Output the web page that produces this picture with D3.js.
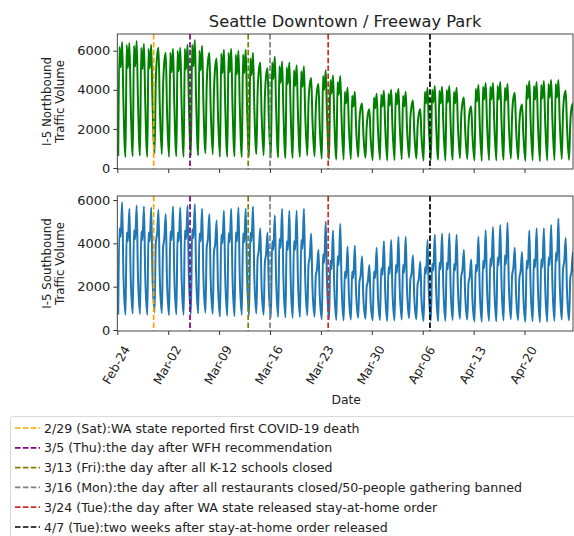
<!DOCTYPE html>
<html>
<head>
<meta charset="utf-8">
<script src="https://cdn.jsdelivr.net/npm/d3@7/dist/d3.min.js"></script>
<style>
  html, body { margin: 0; padding: 0; background: #fff; }
  svg { display: block; font-family: "DejaVu Sans", sans-serif; }
</style>
</head>
<body>
<svg id="chart" width="574" height="536"></svg>
<script>
// ---------- DATA ----------
const startDate = "2020-02-24";            // first day (Monday)
const slotHours = [3, 7, 11, 16, 20];      // hour of day of each daily reading
// I-5 Northbound: daily readings (64 days, Feb 24 .. Apr 27)
const nbMin = [620,560,600,640,580,750,700, 560,600,580,620,640,760,700, 560,580,600,560,600,720,650,
  520,540,500,520,560,640,600, 480,460,440,420,460,560,520, 400,420,380,400,440,520,480,
  380,400,420,380,420,500,460, 380,360,400,380,420,480,440, 360,380,340,380,400,460,420, 320];
const nbAm = [6200,6300,6250,6150,6100,4400,4100, 5900,6000,6100,6300,6000,4200,3900, 5850,5900,5800,5800,5600,3800,3600,
  5400,5200,5150,5000,4950,3300,3000, 4700,4500,4400,3900,3700,2400,2100, 3600,3750,3800,3850,3700,2500,2100,
  3900,4000,3950,4000,3900,2600,2200, 4050,4150,4150,4200,4100,2700,2300, 4250,4200,4250,4300,4300,2800,2300, 4200];
const nbMid = [5150,5100,5200,5050,5100,5650,5400, 4900,4950,5050,5200,5000,5400,5150, 4850,4900,4800,4850,4750,4950,4700,
  4550,4350,4300,4200,4150,4250,3950, 4000,3800,3750,3300,3150,3050,2750, 3050,3150,3200,3250,3150,3150,2750,
  3300,3350,3300,3350,3300,3300,2900, 3400,3500,3500,3500,3450,3550,3000, 3550,3500,3550,3600,3600,3650,3050, 3500];
const nbPeak = [6450,6400,6500,6350,6300,6150,5900, 6100,6150,6300,6550,6250,5900,5600, 6050,6100,6000,6050,5900,5400,5100,
  5700,5450,5400,5250,5200,4600,4300, 5000,4750,4700,4100,3900,3300,3000, 3800,3950,4000,4050,3900,3450,3000,
  4100,4200,4150,4200,4100,3600,3150, 4250,4350,4350,4400,4300,3850,3250, 4450,4400,4450,4500,4500,3950,3300, 4400];
const nbEve = [3500,3500,3600,3500,3500,3300,3000, 3350,3400,3450,3600,3450,3200,2900, 3300,3350,3300,3300,3250,2900,2600,
  3100,3000,2950,2900,2850,2500,2200, 2750,2600,2600,2250,2150,1800,1600, 2100,2150,2200,2250,2150,1900,1600,
  2250,2300,2300,2300,2250,2000,1700, 2350,2400,2400,2400,2350,2100,1750, 2450,2400,2450,2500,2500,2200,1800, 2400];
// I-5 Southbound: daily readings
const sbMin = [720,700,760,740,700,820,780, 680,720,700,740,760,800,740, 620,660,640,700,680,760,700,
  560,600,580,560,600,680,620, 500,480,460,440,480,560,520, 440,460,420,440,480,540,500,
  420,440,400,420,460,520,480, 400,380,420,400,440,500,460, 380,400,360,380,420,480,440, 360];
const sbAm = [4700,4500,4600,4550,4500,4000,3800, 4550,4500,4600,4650,4450,3800,3600, 4400,4450,4500,4450,4500,3300,3100,
  4100,4200,4100,4100,4150,3000,2500, 3500,3200,3400,2700,2700,2200,2000, 2700,2850,2900,3000,3000,2300,2100,
  2900,3050,3100,3100,3050,2450,2150, 3000,3200,3300,3350,3450,2500,2400, 3200,3250,3250,3350,3550,2800,2400, 3200];
const sbMid = [4300,4100,4200,4150,4100,4400,4200, 4150,4100,4200,4250,4100,4200,3950, 4000,4050,4100,4050,4100,3650,3500,
  3700,3800,3700,3700,3750,3350,2800, 3100,2800,3000,2400,2400,2500,2250, 2400,2550,2600,2650,2650,2600,2350,
  2600,2750,2800,2800,2750,2750,2450, 2700,2850,2950,3000,3050,2850,2700, 2850,2900,2900,3000,3200,3150,2700, 2850];
const sbPeak = [5900,5600,5750,5700,5650,5550,5350, 5700,5650,5750,5800,5600,5350,5050, 5500,5600,5650,5600,5700,4700,4500,
  5300,5600,5500,5500,5600,4450,3700, 5000,4600,4900,3850,3900,3400,3000, 3800,4100,4150,4300,4300,3450,3150,
  4150,4400,4450,4450,4400,3700,3250, 4300,4600,4750,4850,4950,3800,3600, 4600,4700,4700,4850,5150,4250,3600, 4600];
const sbEve = [2700,2550,2600,2600,2600,2500,2300, 2600,2550,2600,2650,2550,2400,2200, 2500,2550,2550,2550,2600,2100,1950,
  2400,2500,2450,2450,2500,2000,1650, 2250,2050,2200,1750,1750,1500,1350, 1700,1850,1850,1950,1950,1550,1400,
  1850,2000,2000,2000,2000,1650,1450, 1950,2050,2150,2200,2250,1700,1600, 2050,2100,2100,2200,2300,1900,1600, 2050];

const eventDates = ["2020-02-29", "2020-03-05", "2020-03-13", "2020-03-16", "2020-03-24", "2020-04-07"];
const eventColors = ["#ffa500", "#800080", "#808000", "#808080", "#d62728", "#000000"];
const eventLabels = [
  "2/29 (Sat):WA state reported first COVID-19 death",
  "3/5 (Thu):the day after WFH recommendation",
  "3/13 (Fri):the day after all K-12 schools closed",
  "3/16 (Mon):the day after all restaurants closed/50-people gathering banned",
  "3/24 (Tue):the day after WA state released stay-at-home order",
  "4/7 (Tue):two weeks after stay-at-home order released"
];
const xTickDates = ["2020-02-24","2020-03-02","2020-03-09","2020-03-16","2020-03-23","2020-03-30","2020-04-06","2020-04-13","2020-04-20"];
const yTicksNB = [0, 2000, 4000, 6000];
const yTicksSB = [0, 2000, 4000, 6000];

// ---------- BUILD ----------
const parse = d3.utcParse("%Y-%m-%d");
const day0 = parse(startDate);
function buildSeries(slots) {
  const pts = [];
  for (let i = 0; i < slots[0].length; i++) {
    slotHours.forEach((h, k) => {
      pts.push({ t: d3.utcHour.offset(d3.utcDay.offset(day0, i), h), v: slots[k][i] });
    });
  }
  return pts;
}
const nbData = buildSeries([nbMin, nbAm, nbMid, nbPeak, nbEve]);
const sbData = buildSeries([sbMin, sbAm, sbMid, sbPeak, sbEve]);

const svg = d3.select("#chart");
const left = 117.3, right = 573;
const x = d3.scaleUtc()
  .domain([day0, d3.utcHour.offset(day0, Math.round((right - left) / (50.9 / 7) * 24))])
  .range([left, right]);

const panels = [
  { id: "nb", top: 34, bottom: 169, domain: [-51, 6854], data: nbData, color: "#008000", ticks: yTicksNB,
    label: ["I-5 Northbound", "Traffic Volume"], xlabels: false },
  { id: "sb", top: 196, bottom: 331, domain: [-46, 6185], data: sbData, color: "#1f77b4", ticks: yTicksSB,
    label: ["I-5 Southbound", "Traffic Volume"], xlabels: true }
];

svg.append("text").attr("x", (left + right) / 2).attr("y", 27)
  .attr("text-anchor", "middle").attr("font-size", 16.3).attr("fill", "#222")
  .text("Seattle Downtown / Freeway Park");

panels.forEach(p => {
  const y = d3.scaleLinear().domain(p.domain).range([p.bottom, p.top]);
  svg.append("clipPath").attr("id", "clip-" + p.id)
    .append("rect").attr("x", left).attr("y", p.top).attr("width", right - left).attr("height", p.bottom - p.top);
  const g = svg.append("g").attr("clip-path", `url(#clip-${p.id})`);
  const line = d3.line().x(d => x(d.t)).y(d => y(d.v)).curve(d3.curveMonotoneX);
  g.append("path").datum(p.data).attr("d", line)
    .attr("fill", "none").attr("stroke", p.color).attr("stroke-width", 2).attr("stroke-linejoin", "round");
  eventDates.forEach((ds, i) => {
    const xx = x(parse(ds));
    g.append("line").attr("x1", xx).attr("x2", xx).attr("y1", p.top).attr("y2", p.bottom)
      .attr("stroke", eventColors[i]).attr("stroke-width", 1.7).attr("stroke-dasharray", "5.5,2.4");
  });
  // frame
  svg.append("rect").attr("x", left).attr("y", p.top).attr("width", right - left).attr("height", p.bottom - p.top)
    .attr("fill", "none").attr("stroke", "#333").attr("stroke-width", 0.9);
  // y axis
  const ya = svg.append("g").attr("transform", `translate(${left},0)`)
    .call(d3.axisLeft(y).tickValues(p.ticks).tickSize(4).tickPadding(3).tickFormat(d3.format("d")));
  ya.select(".domain").remove();
  ya.selectAll("line").attr("stroke", "#333");
  ya.selectAll("text").attr("font-size", 13).attr("fill", "#222").attr("font-family", "DejaVu Sans");
  // x axis
  const xa = svg.append("g").attr("transform", `translate(0,${p.bottom})`)
    .call(d3.axisBottom(x).tickValues(xTickDates.map(parse)).tickSize(4)
      .tickFormat(p.xlabels ? d3.utcFormat("%b-%d") : () => ""));
  xa.select(".domain").remove();
  xa.selectAll("line").attr("stroke", "#333");
  if (p.xlabels) {
    xa.selectAll("text").attr("font-size", 12.3).attr("fill", "#222").attr("font-family", "DejaVu Sans")
      .attr("text-anchor", "middle").attr("dy", "0.35em").attr("y", 0)
      .attr("transform", "translate(-1.5,34) rotate(-60)");
  }
  // y label
  const cy = (p.top + p.bottom) / 2;
  const lab = svg.append("text").attr("transform", `translate(53,${cy}) rotate(-90)`)
    .attr("text-anchor", "middle").attr("font-size", 11.8).attr("fill", "#222");
  lab.append("tspan").attr("x", 0).attr("dy", "-0.15em").text(p.label[0]);
  lab.append("tspan").attr("x", 0).attr("dy", "1.05em").text(p.label[1]);
});

svg.append("text").attr("x", (left + right) / 2 + 1).attr("y", 404)
  .attr("text-anchor", "middle").attr("font-size", 12.3).attr("fill", "#222").text("Date");

// legend
const lg = svg.append("g");
lg.append("rect").attr("x", 10.5).attr("y", 416.5).attr("width", 600).attr("height", 140)
  .attr("rx", 3).attr("fill", "#fff").attr("stroke", "#d9d9d9");
eventLabels.forEach((t, i) => {
  const yy = 428 + i * 19.8;
  lg.append("line").attr("x1", 15).attr("x2", 40).attr("y1", yy).attr("y2", yy)
    .attr("stroke", eventColors[i]).attr("stroke-width", 1.7).attr("stroke-dasharray", "5.5,2.4");
  lg.append("text").attr("x", 44).attr("y", yy + 4.5).attr("font-size", 12.6).attr("fill", "#222").text(t);
});
</script>
</body>
</html>
